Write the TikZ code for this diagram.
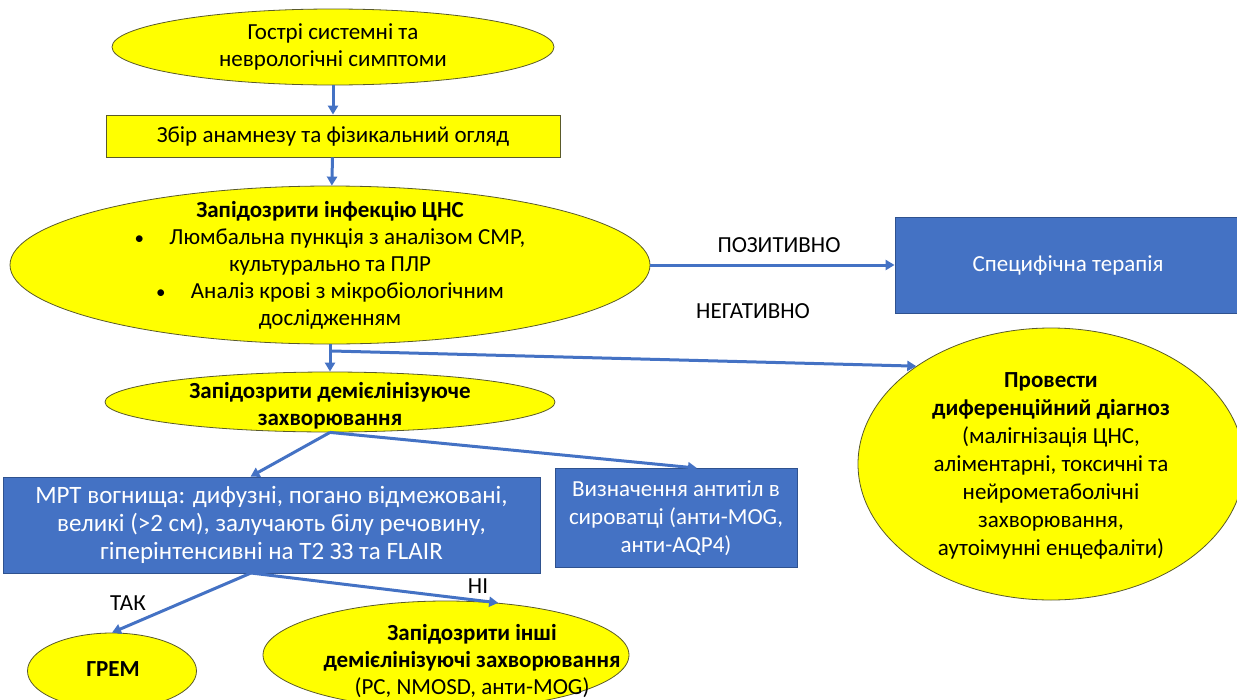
\documentclass[tikz,border=0pt]{standalone}
\usepackage{fontspec}
\setmainfont{Carlito}
\usetikzlibrary{positioning,arrows.meta,shapes.geometric}

\definecolor{flowyellow}{HTML}{FFFF00}
\definecolor{flowblue}{HTML}{4472C4}
\definecolor{flowedge}{HTML}{2F528F}
\definecolor{elledge}{HTML}{5A5A2A}

\tikzset{
  yellowell/.style={ellipse, draw=elledge, line width=0.8pt, fill=flowyellow, inner sep=0pt},
  yellowbox/.style={rectangle, draw=elledge, line width=0.8pt, fill=flowyellow, inner sep=0pt},
  bluebox/.style={rectangle, draw=flowedge, line width=0.8pt, fill=flowblue, inner sep=0pt, text=white},
  flowtext/.style={align=center, inner sep=0pt, font=\fontsize{23}{27}\selectfont},
  bigtext/.style={align=center, inner sep=0pt, font=\fontsize{23}{28}\selectfont},
  branchlabel/.style={inner sep=0pt, font=\fontsize{23}{26}\selectfont},
  flowarrow/.style={draw=flowblue, line width=3pt, -{Triangle[length=9pt,width=10pt]}},
}
\newcommand{\flowbullet}{{\fontsize{19}{19}\selectfont •}\hspace{1.1em}}

\begin{document}
\begin{tikzpicture}[x=1pt,y=-1pt]
    \useasboundingbox (0,0) rectangle (1237,699);

    %% first steps
    \node[yellowell, minimum width=442, minimum height=76] (sympt) at (333,47) {};
    \node[flowtext] (sympt-txt) at (sympt) {Гострі системні та\\неврологічні симптоми};
    \node[yellowbox, minimum width=454, minimum height=42, font=\fontsize{23}{26}\selectfont] (history) at (333,136) {Збір анамнезу та фізикальний огляд};

    %% infection
    \node[yellowell, minimum width=640, minimum height=158] (infect) at (330,265) {};
    \node[flowtext] (infect-txt) at (infect) {\textbf{Запідозрити інфекцію ЦНС}\\
        \flowbullet Люмбальна пункція з аналізом СМР,\\
        культурально та ПЛР\\
        \flowbullet Аналіз крові з мікробіологічним\\
        дослідженням};
    \node[bluebox, minimum width=346, minimum height=96, font=\fontsize{23}{26}\selectfont] (therapy) at (1068,265) {Специфічна терапія};
    \node[yellowell, minimum width=386, minimum height=272] (diag) at (1051,464) {};
    \node[bigtext] (diag-txt) at (1051,466) {\textbf{Провести}\\\textbf{диференційний діагноз}\\(малігнізація ЦНС,\\аліментарні, токсичні та\\нейрометаболічні\\захворювання,\\аутоімунні енцефаліти)};

    %% demyelination
    \node[yellowell, minimum width=450, minimum height=60] (demyel) at (330,402) {};
    \node[flowtext] (demyel-txt) at (330,406) {\textbf{Запідозрити демієлінізуюче}\\\textbf{захворювання}};
    \node[bluebox, minimum width=537, minimum height=96, align=center, font=\fontsize{25}{28}\selectfont] (mri) at (271.5,525) {МРТ вогнища: дифузні, погано відмежовані,\\великі (>2 см), залучають білу речовину,\\гіперінтенсивні на Т2 ЗЗ та FLAIR};
    \node[bluebox, minimum width=242, minimum height=99, align=center, font=\fontsize{23}{28}\selectfont] (ab) at (676,518) {Визначення антитіл в\\сироватці (анти-MOG,\\анти-AQP4)};
    \node[yellowell, minimum width=169, minimum height=76] (grem) at (112,671) {};
    \node[flowtext] (grem-txt) at (113,669) {\textbf{ГРЕМ}};
    \node[yellowell, minimum width=366, minimum height=108] (other) at (446,655) {};
    \node[flowtext] (other-txt) at (472,661) {\textbf{Запідозрити інші}\\\textbf{демієлінізуючі захворювання}\\(РС, NMOSD, анти-MOG)};

    %% connectors
    \draw[flowarrow] (sympt) -- (history);
    \draw[flowarrow] (history) -- (infect);
    \draw[flowarrow] (infect.east) -- (therapy.west);
    \draw[flowarrow] (infect.south) -- (demyel.north);
    \coordinate (negfork) at (332,351);
    \draw[flowarrow] (negfork) -- (diag.144);
    \draw[flowarrow] (demyel.south) -- ([xshift=-21pt]mri.north);
    \draw[flowarrow] (demyel.south) -- ([xshift=21pt]ab.north);
    \coordinate (mrifork) at (251,573);
    \draw[flowarrow] (mrifork) -- (grem.north);
    \draw[flowarrow] (mrifork) -- (other.45);

    %% branch labels
    \node[branchlabel] (pos-lbl) at (779,245) {ПОЗИТИВНО};
    \node[branchlabel] (neg-lbl) at (753,311) {НЕГАТИВНО};
    \node[branchlabel] (yes-lbl) at (128,603) {ТАК};
    \node[branchlabel] (no-lbl) at (478,586) {НІ};
\end{tikzpicture}
\end{document}
